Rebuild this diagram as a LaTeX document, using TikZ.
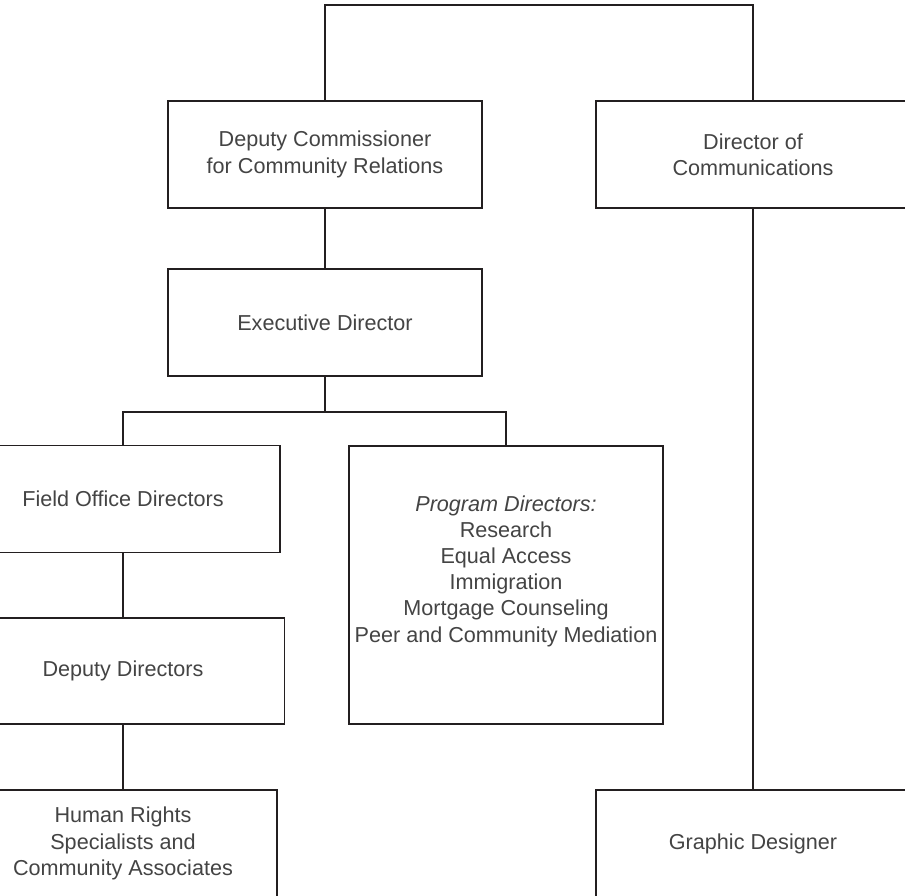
\documentclass[tikz,border=0pt]{standalone}
\usepackage{fontspec}
\setmainfont{Liberation Sans}
\usetikzlibrary{positioning}
\definecolor{linegray}{RGB}{35,31,32}
\definecolor{textgray}{RGB}{68,68,68}
\tikzset{
    % boxes of the chart
    orgbox/.style={
        rectangle, draw=linegray, line width=1.1pt, fill=white,
        minimum width=6.28cm, minimum height=2.14cm,
        align=center, text=textgray, inner sep=0pt,
        font=\fontsize{12.3}{14.9}\selectfont
    },
    listtext/.style={
        align=center, text=textgray, inner sep=0pt,
        font=\fontsize{12.3}{14.9}\selectfont
    },
    link/.style={
        draw=linegray, line width=1.1pt
    }
}

\begin{document}
\begin{tikzpicture}[x=0.02cm, y=-0.02cm]
\useasboundingbox (0,0) rectangle (905,895);
\clip (0,0) rectangle (905,895);

\node[orgbox] (depcomm) at (325,154.5) {Deputy Commissioner\\for Community Relations};
\node[orgbox] (dircomm) at (753,154.5) {Director of\\Communications};
\node[orgbox, below=1.18cm of depcomm] (exec) {Executive Director};
\node[orgbox] (field) at (123,499) {Field Office Directors};
\node[orgbox, minimum height=5.56cm] (program) at (506,585) {};
\node[listtext] (programlist) at (506,571) {\textit{Program Directors:}\\Research\\Equal Access\\Immigration\\Mortgage Counseling\\Peer and Community Mediation};
\node[orgbox, minimum width=6.46cm, minimum height=2.12cm] (deputy) at (123,671) {Deputy Directors};
\node[orgbox, minimum width=6.16cm] (human) at (123,843.5) {Human Rights\\Specialists and\\Community Associates};
\node[orgbox] (graphic) at (753,843.5) {Graphic Designer};

\coordinate (top) at (0,5);
\coordinate (branch) at (0,412);

\draw[link] (depcomm.north) -- (depcomm.north |- top) -| (dircomm.north);
\draw[link] (depcomm) -- (exec);
\draw[link] (exec.south) -- (exec.south |- branch);
\draw[link] (field.north) -- (field.north |- branch) -| (program.north);
\draw[link] (field) -- (deputy);
\draw[link] (deputy) -- (human);
\draw[link] (dircomm) -- (graphic);

\end{tikzpicture}
\end{document}
